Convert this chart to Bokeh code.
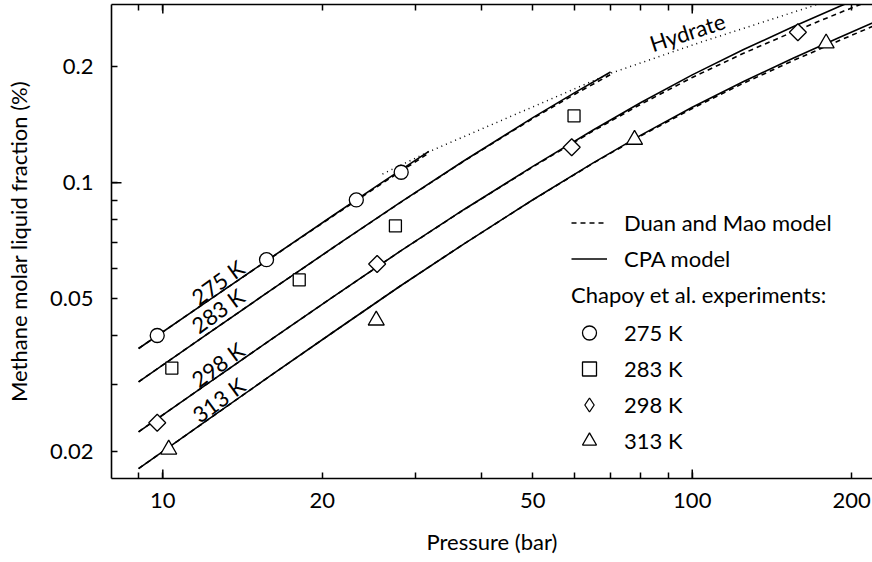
import math
from bokeh.plotting import figure
from bokeh.models import (LogAxis, FixedTicker, Label, Legend, LegendItem, Range1d)
from bokeh.embed import file_html
from bokeh.resources import INLINE

FONT = "Lato"
FS = "22px"

# ---------------- data ----------------
x_ticks = [10, 20, 50, 100, 200]
x_minor = [9, 30, 40, 60, 70, 80, 90]
y_ticks = [0.02, 0.05, 0.1, 0.2]
y_minor = [0.03, 0.04, 0.06, 0.07, 0.08, 0.09]
x_tick_labels = ["10", "20", "50", "100", "200"]
y_tick_labels = ["0.02", "0.05", "0.1", "0.2"]

temps = ["275 K", "283 K", "298 K", "313 K"]

P_275 = [9, 12, 16, 21, 26, 31.8]
cpa_275 = [0.0371, 0.04868, 0.06380, 0.08230, 0.1003, 0.1205]
duan_275 = [0.0371, 0.04868, 0.06375, 0.08205, 0.0997, 0.1193]

P_283 = [9, 12, 16, 21, 28, 37, 50, 60, 70.1]
cpa_283 = [0.0304, 0.04002, 0.05259, 0.06789, 0.08861, 0.1138, 0.1475, 0.1713, 0.1937]
duan_283 = [0.0304, 0.04002, 0.05259, 0.06785, 0.08850, 0.1136, 0.1468, 0.1696, 0.1908]

P_298 = [9, 12, 16, 21, 28, 37, 50, 65, 80, 100, 125, 155, 190, 230]
cpa_298 = [0.02255, 0.02972, 0.03912, 0.05058, 0.06619, 0.08506, 0.1102,
           0.1370, 0.1614, 0.1904, 0.2216, 0.2538, 0.2868, 0.3204]
duan_298 = [0.02255, 0.02972, 0.03912, 0.05058, 0.06619, 0.0850, 0.1099,
            0.1362, 0.1598, 0.1875, 0.2167, 0.2462, 0.2762, 0.3066]

P_313 = [9, 12, 16, 21, 28, 37, 50, 65, 80, 100, 125, 155, 190, 230]
cpa_313 = [0.0181, 0.02392, 0.03159, 0.04095, 0.05375, 0.06926, 0.09028,
           0.1125, 0.1328, 0.1569, 0.1830, 0.2102, 0.2384, 0.2676]
duan_313 = [0.0181, 0.02392, 0.03159, 0.04095, 0.05375, 0.06926, 0.09019,
            0.1123, 0.1323, 0.1558, 0.1812, 0.2073, 0.2341, 0.2617]

hydrate_P = [26.0, 31.6, 70.1, 103.7, 172.2, 185]
hydrate_y = [0.1053, 0.1198, 0.1922, 0.2314, 0.290, 0.2993]

exp_275_P = [9.76, 15.7, 23.2, 28.2]
exp_275_y = [0.0401, 0.0631, 0.0902, 0.1064]
exp_283_P = [10.4, 18.1, 27.5, 59.8]
exp_283_y = [0.0330, 0.0559, 0.0772, 0.149]
exp_298_P = [9.76, 25.4, 59.2, 158.3]
exp_298_y = [0.0238, 0.0615, 0.1235, 0.2457]
exp_313_P = [10.26, 25.3, 77.8, 179]
exp_313_y = [0.0203, 0.0439, 0.1293, 0.2300]

label_P = [12.7, 12.7, 12.7, 12.75]
label_y = [0.0551, 0.0465, 0.0337, 0.0273]
hydrate_label_P = 97.9
hydrate_label_y = 0.2457

X_LO, X_HI = 8.0, 219.0
Y_LO, Y_HI = 0.01706, 0.29

# ---------------- figure ----------------
p = figure(width=872, height=562, x_axis_type="log", y_axis_type="log",
           x_range=Range1d(X_LO, X_HI), y_range=Range1d(Y_LO, Y_HI),
           output_backend="svg", toolbar_location=None,
           min_border_left=111, min_border_right=0, min_border_top=4,
           min_border_bottom=84)
p.grid.visible = False
p.outline_line_color = None
p.background_fill_color = "white"
p.border_fill_color = "white"


def style_axis(ax, ticks, minor, labels, show_labels=True):
    ax.ticker = FixedTicker(ticks=ticks, minor_ticks=minor)
    ax.major_tick_in = 6
    ax.major_tick_out = 0
    ax.minor_tick_in = 6
    ax.minor_tick_out = 0
    ax.major_tick_line_width = 1.5
    ax.minor_tick_line_width = 1.5
    ax.major_tick_line_color = "black"
    ax.minor_tick_line_color = "black"
    ax.axis_line_width = 1.6
    ax.axis_line_color = "black"
    ax.major_label_overrides = {t: l for t, l in zip(ticks, labels)}
    ax.major_label_text_font = FONT
    ax.major_label_text_font_size = FS if show_labels else "0px"
    ax.major_label_text_color = "black"
    ax.axis_label_text_font = FONT
    ax.axis_label_text_font_size = FS
    ax.axis_label_text_font_style = "normal"
    ax.axis_label_text_color = "black"


xa = p.xaxis[0]
ya = p.yaxis[0]
style_axis(xa, x_ticks, x_minor, x_tick_labels)
style_axis(ya, y_ticks, y_minor, y_tick_labels)
xa.axis_label = "Pressure (bar)"
ya.axis_label = "Methane molar liquid fraction (%)"
xa.major_label_standoff = 14
ya.major_label_standoff = 18
xa.axis_label_standoff = 17
ya.axis_label_standoff = 15

top = LogAxis()
style_axis(top, x_ticks, x_minor, x_tick_labels, show_labels=False)
top.major_label_standoff = 0
p.add_layout(top, "above")

# longer decade ticks
p.ray(x=[10, 100], y=[Y_LO, Y_LO], length=9, length_units="screen",
      angle=90, angle_units="deg", line_color="black", line_width=1.5)
p.ray(x=[10, 100], y=[Y_HI, Y_HI], length=9, length_units="screen",
      angle=-90, angle_units="deg", line_color="black", line_width=1.5)
p.ray(x=[X_LO], y=[0.1], length=10, length_units="screen",
      angle=0, angle_units="deg", line_color="black", line_width=1.5)

LW = 1.6
DASH = "5 4"

# model curves
curves = [(P_275, cpa_275, duan_275), (P_283, cpa_283, duan_283),
          (P_298, cpa_298, duan_298), (P_313, cpa_313, duan_313)]
r_duan = None
r_cpa = None
for P, c, d in curves:
    rd = p.line(P, d, line_color="black", line_width=LW, line_dash=DASH)
    rc = p.line(P, c, line_color="black", line_width=LW)
    if r_duan is None:
        r_duan, r_cpa = rd, rc

# hydrate boundary
p.line(hydrate_P, hydrate_y, line_color="black", line_width=1.5, line_dash="1 4")

# experiments
MK = dict(fill_color="white", line_color="black", line_width=1.3)
# legend proxy for the diamond (legend glyphs are drawn unrotated);
# it is drawn first and fully covered by the rotated squares below
r298_leg = p.scatter(exp_298_P, exp_298_y, marker="diamond", size=14, **MK)
r275 = p.scatter(exp_275_P, exp_275_y, marker="circle", size=14, **MK)
r283 = p.scatter(exp_283_P, exp_283_y, marker="square", size=12, **MK)
r298 = p.scatter(exp_298_P, exp_298_y, marker="square", size=12, angle=math.pi / 4, **MK)
r313 = p.scatter(exp_313_P, exp_313_y, marker="triangle", size=16, **MK)

# labels on curves
for t, lx, ly in zip(temps, label_P, label_y):
    p.add_layout(Label(x=lx, y=ly, text=t, angle=36, angle_units="deg",
                       text_align="center", text_baseline="middle",
                       text_font=FONT, text_font_size=FS, text_color="black"))
p.add_layout(Label(x=hydrate_label_P, y=hydrate_label_y, text="Hydrate", angle=18,
                   angle_units="deg", text_align="center", text_baseline="middle",
                   text_font=FONT, text_font_size=FS, text_color="black"))


# legends
def make_legend(items, loc, title=None):
    lg = Legend(items=items, location=loc, orientation="vertical",
                glyph_width=36, glyph_height=35, label_height=35,
                label_width=10, spacing=1, padding=0, margin=0,
                label_standoff=17, border_line_color=None,
                background_fill_alpha=0.0,
                label_text_font=FONT, label_text_font_size=FS,
                label_text_color="black")
    if title:
        lg.title = title
        lg.title_text_font = FONT
        lg.title_text_font_size = FS
        lg.title_text_font_style = "normal"
        lg.title_text_color = "black"
        lg.title_standoff = 7
    return lg


leg1 = make_legend([LegendItem(label="Duan and Mao model", renderers=[r_duan]),
                    LegendItem(label="CPA model", renderers=[r_cpa])],
                   (460, 202))
leg2 = make_legend([LegendItem(label=t, renderers=[r])
                    for t, r in zip(temps, [r275, r283, r298_leg, r313])],
                   (460, 20), title="Chapoy et al. experiments:")
p.add_layout(leg1)
p.add_layout(leg2)

open("out.html", "w").write(file_html(p, INLINE))
